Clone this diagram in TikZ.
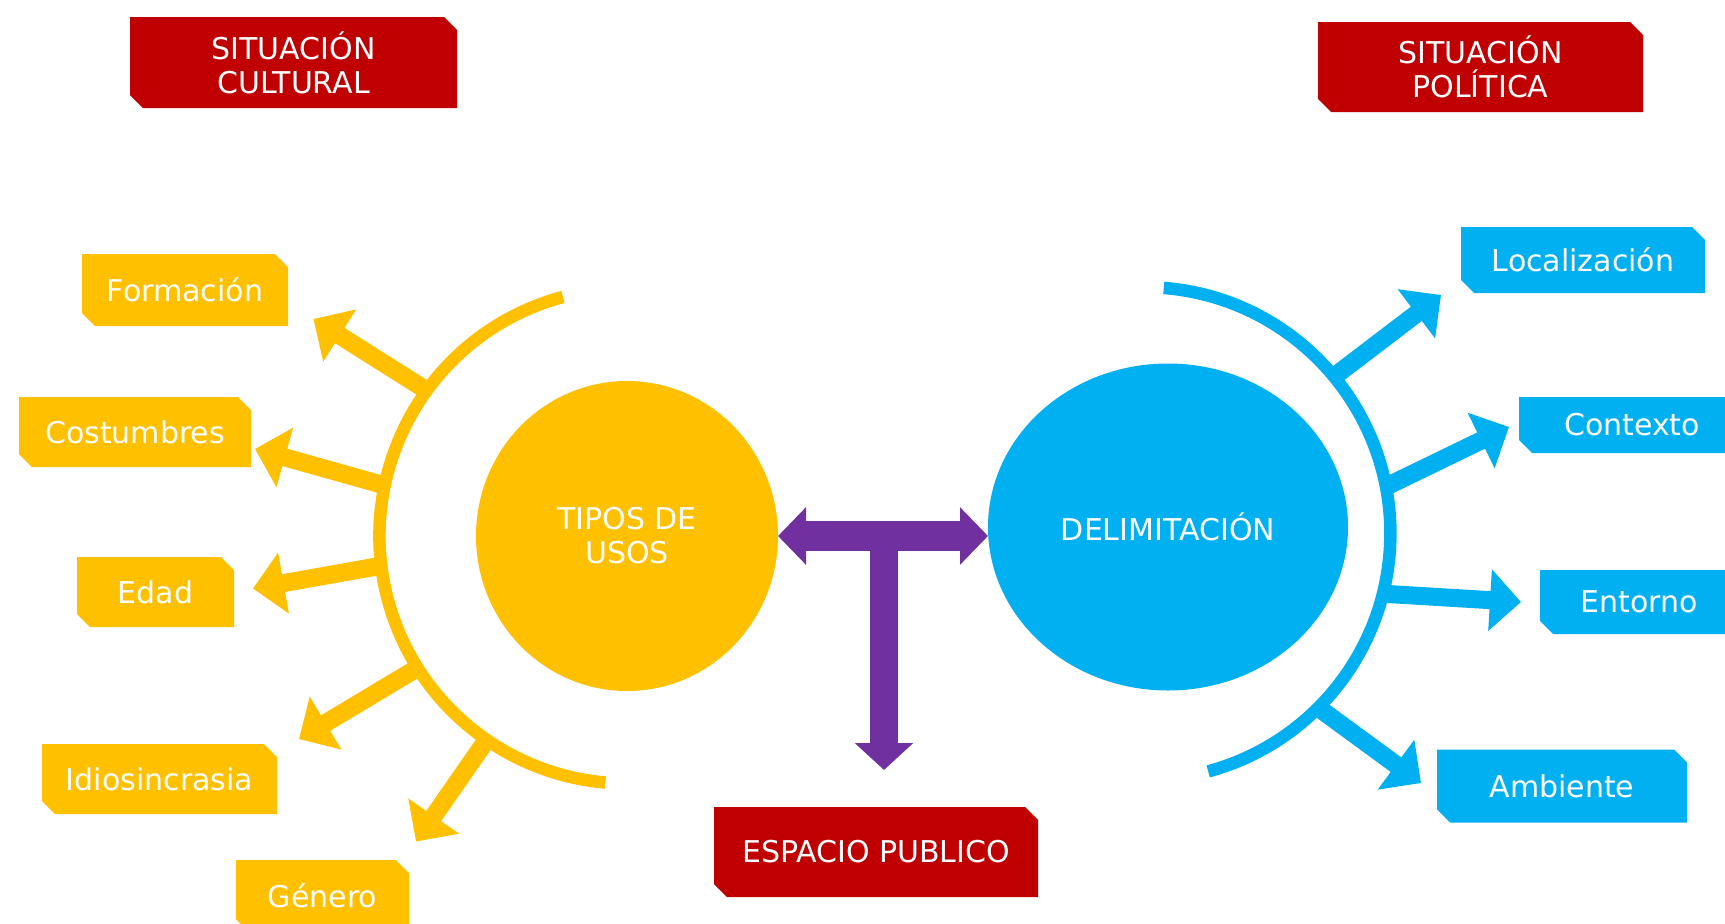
\documentclass[tikz,border=0pt]{standalone}
\usepackage{fontspec}
\setmainfont{DejaVu Sans}
\usetikzlibrary{arrows.meta,shapes.geometric}
\definecolor{cred}{HTML}{C00000}
\definecolor{cyel}{HTML}{FFC000}
\definecolor{cblu}{HTML}{00B0F0}
\definecolor{cpur}{HTML}{7030A0}
\tikzset{
  lbl/.style={font=\fontsize{30}{34}\selectfont, text=white, align=center},
  snipbox/.style={rectangle, inner sep=0pt, outer sep=0pt, lbl,
    path picture={\fill[#1]
      (path picture bounding box.north west)
      -- ([xshift=-13pt]path picture bounding box.north east)
      -- ([yshift=-13pt]path picture bounding box.north east)
      -- (path picture bounding box.south east)
      -- ([xshift=13pt]path picture bounding box.south west)
      -- ([yshift=13pt]path picture bounding box.south west)
      -- cycle;}},
  hub/.style={ellipse, inner sep=0pt, outer sep=0pt, fill=#1, lbl},
  ring/.style={draw=#1, line width=12.5pt},
  ray/.style={draw=#1, line width=18pt, -{Triangle[length=31pt,width=60pt]}},
  tee/.style={draw=cpur, line width=30pt},
}
\begin{document}
\begin{tikzpicture}[x=1pt,y=-1pt]
\useasboundingbox (0,0) rectangle (1725,924);
\clip (0,0) rectangle (1725,924);
\fill[white] (0,0) rectangle (1725,924);

% header boxes
\node[snipbox=cred, minimum width=327pt, minimum height=91pt] (sc) at (293.5,62.5) {SITUACIÓN\\CULTURAL};
\node[snipbox=cred, minimum width=325pt, minimum height=90pt] (sp) at (1480.5,67) {SITUACIÓN\\POLÍTICA};
\node[snipbox=cred, minimum width=324pt, minimum height=90pt] (ep) at (876,852) {ESPACIO PUBLICO};

% hubs
\node[hub=cyel, minimum width=302pt, minimum height=310pt] (tu) at (627,536) {TIPOS DE\\USOS};
\node[hub=cblu, minimum width=360pt, minimum height=327pt] (dl) at (1168,527) {DELIMITACIÓN};

% yellow boxes
\node[snipbox=cyel, minimum width=206pt, minimum height=72pt] (fo) at (185,290) {Formación};
\node[snipbox=cyel, minimum width=232pt, minimum height=70pt] (co) at (135,432) {Costumbres};
\node[snipbox=cyel, minimum width=157pt, minimum height=70pt] (ed) at (155.5,592) {Edad};
\node[snipbox=cyel, minimum width=235pt, minimum height=70pt] (id) at (159.5,779) {Idiosincrasia};
\node[snipbox=cyel, minimum width=173pt, minimum height=72pt] (ge) at (322.5,896) {Género};

% blue boxes
\node[snipbox=cblu, minimum width=244pt, minimum height=66pt] (lo) at (1583,260) {Localización};
\node[snipbox=cblu, minimum width=226pt, minimum height=56pt] (cx) at (1632,425) {Contexto};
\node[snipbox=cblu, minimum width=198pt, minimum height=64pt] (en) at (1639,602) {Entorno};
\node[snipbox=cblu, minimum width=250pt, minimum height=73pt] (am) at (1562,786) {Ambiente};

% arcs
\coordinate (yc) at (627,536);
\coordinate (bc) at (1144,533.5);
\draw[ring=cyel] (yc) ++(-105:247.5) arc[start angle=-105, end angle=-265, radius=247.5];
\draw[ring=cblu] (bc) ++(-85.4:246.4) arc[start angle=-85.4, end angle=74.9, radius=246.4];

% yellow rays
\coordinate (y1s) at (426.5,390.3); \coordinate (y1t) at (313.5,319);
\coordinate (y2s) at (385.3,485.6); \coordinate (y2t) at (255,449);
\coordinate (y3s) at (381.9,565.6); \coordinate (y3t) at (253,588.5);
\coordinate (y4s) at (418.5,667.4); \coordinate (y4t) at (299,739);
\coordinate (y5s) at (486.7,739.8); \coordinate (y5t) at (416,841.5);
\draw[ray=cyel] (y1s) -- (y1t);
\draw[ray=cyel] (y2s) -- (y2t);
\draw[ray=cyel] (y3s) -- (y3t);
\draw[ray=cyel] (y4s) -- (y4t);
\draw[ray=cyel] (y5s) -- (y5t);

% blue rays
\coordinate (b1s) at (1333.6,376.9); \coordinate (b1t) at (1441,295);
\coordinate (b2s) at (1386.1,486.6); \coordinate (b2t) at (1509,427);
\coordinate (b3s) at (1383,593.7);   \coordinate (b3t) at (1521,602);
\coordinate (b4s) at (1318.2,707.7); \coordinate (b4t) at (1421,783);
\draw[ray=cblu] (b1s) -- (b1t);
\draw[ray=cblu] (b2s) -- (b2t);
\draw[ray=cblu] (b3s) -- (b3t);
\draw[ray=cblu] (b4s) -- (b4t);

% purple T
\draw[tee, {Triangle[length=28pt,width=56pt]}-{Triangle[length=28pt,width=56pt]}] (tu.east) -- (tu.east -| dl.west);
\coordinate (tj) at (884,540);
\coordinate (tt) at (884,770);
\draw[draw=cpur, line width=28pt, -{Triangle[length=27pt,width=57pt]}] (tj) -- (tt);
\end{tikzpicture}
\end{document}
